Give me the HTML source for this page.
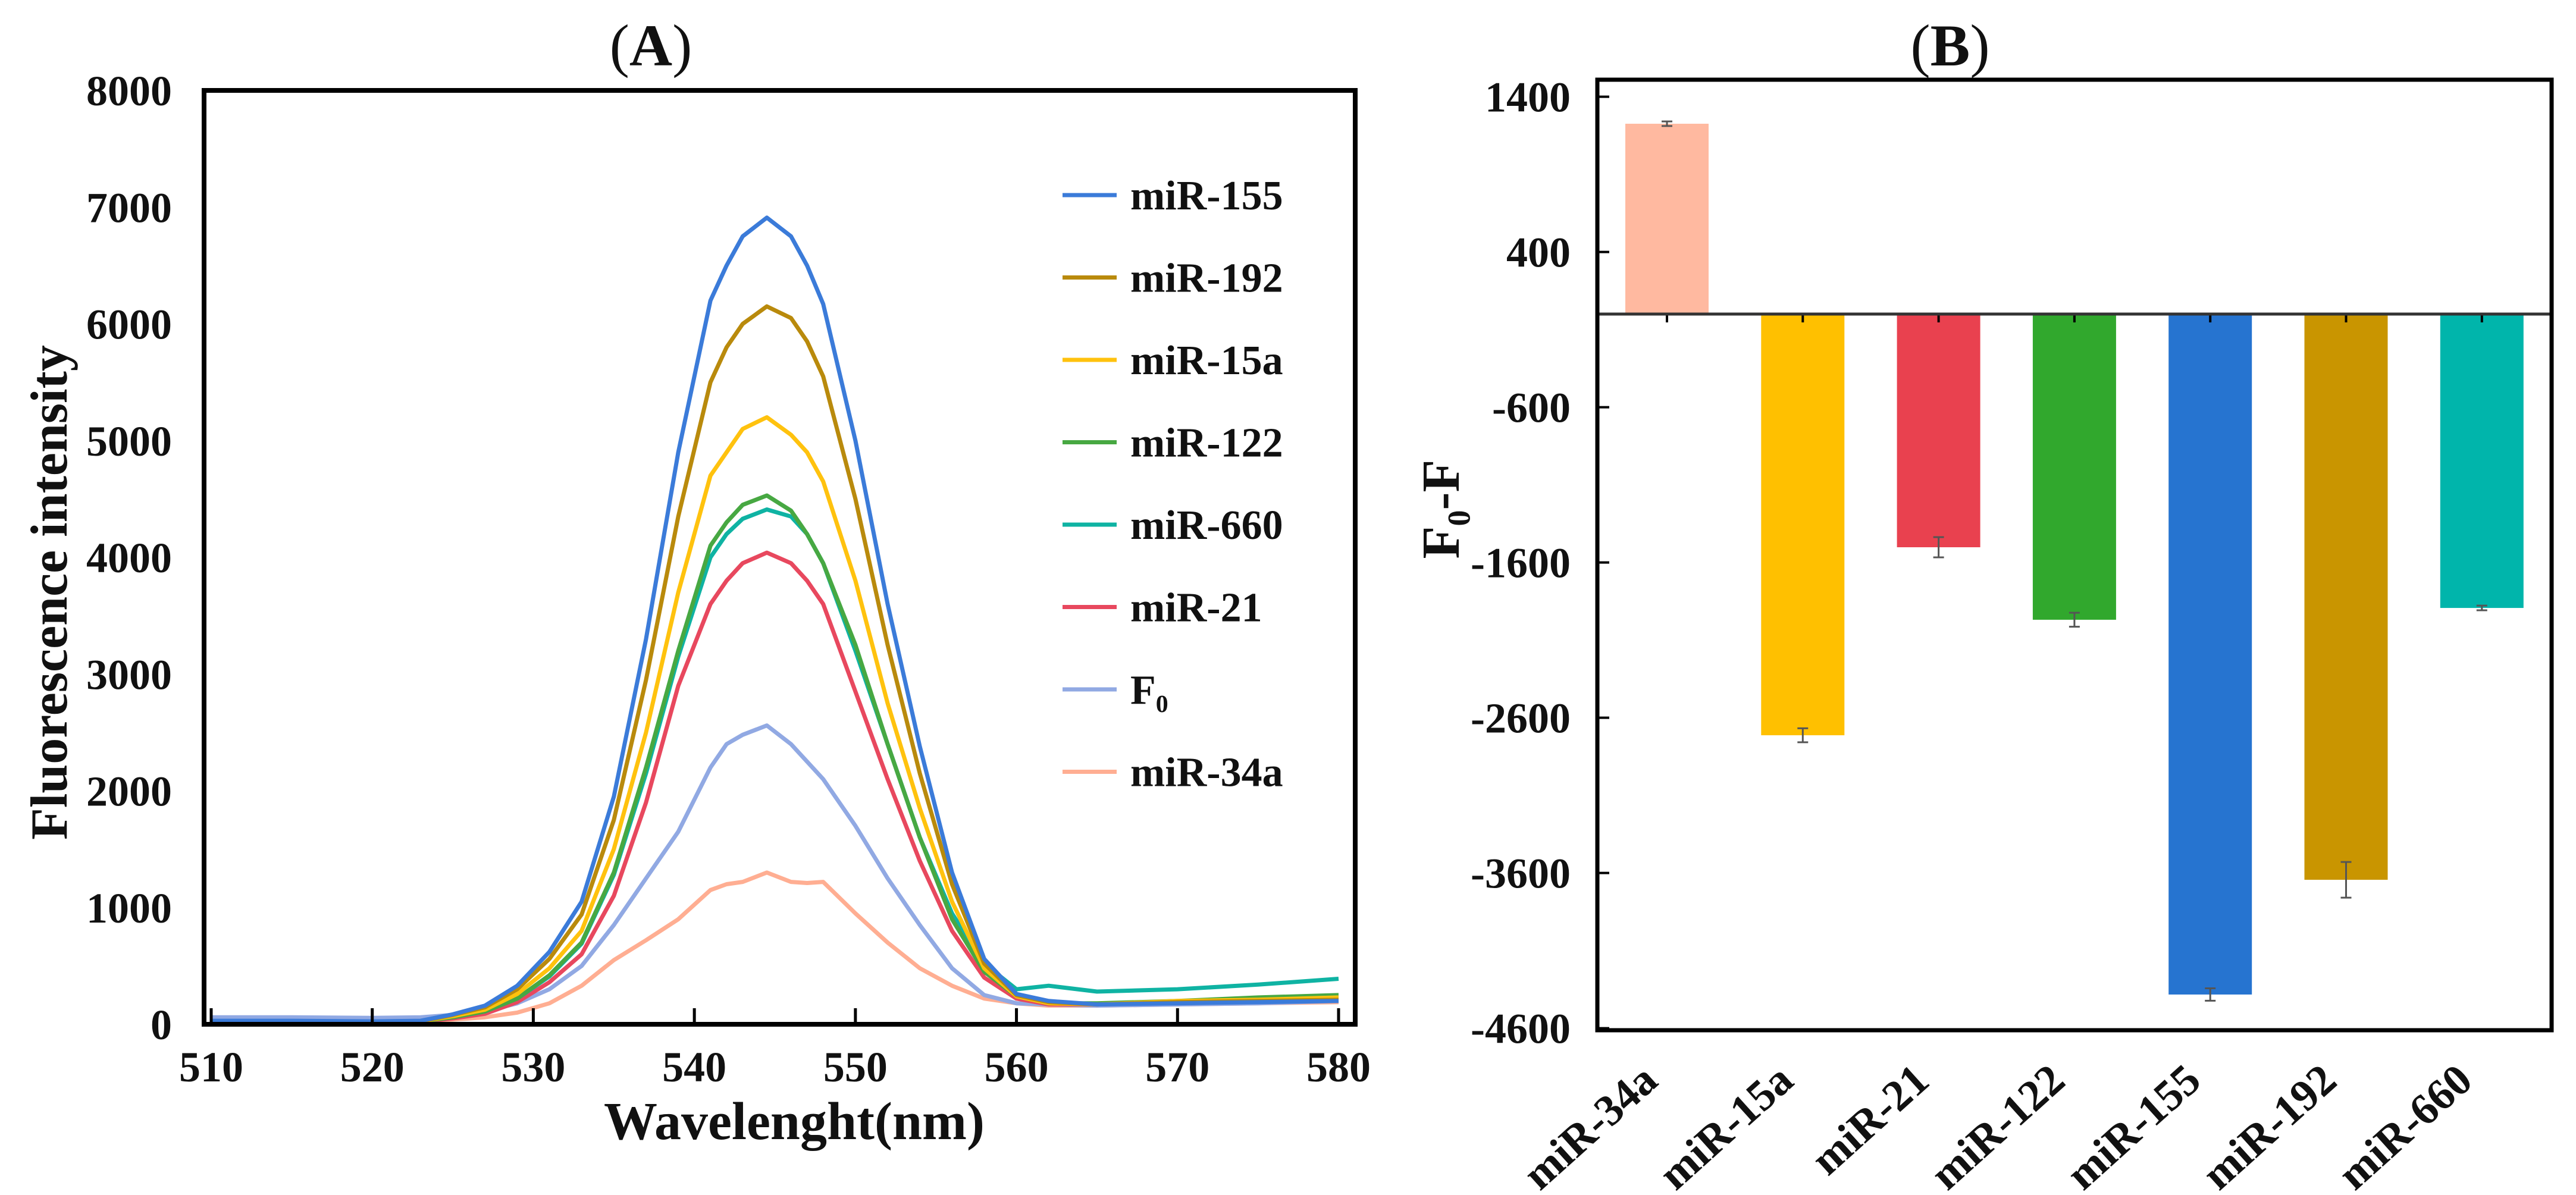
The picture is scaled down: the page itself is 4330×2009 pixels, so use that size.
<!DOCTYPE html>
<html><head><meta charset="utf-8"><style>
html,body{margin:0;padding:0;background:#fff}
svg text{font-family:"Liberation Serif",serif;font-weight:bold;fill:#111}
</style></head><body>
<svg id="fig" width="4330" height="2004" viewBox="0 0 4330 2004" xmlns="http://www.w3.org/2000/svg">
<rect width="4330" height="2004" fill="#fff"/>
<g id="pA"></g>
<g id="pB"></g>
</svg>
<script>
// ---------- Panel A data ----------
const wavelengths=[510,515,520,523,525,527,529,531,533,535,537,539,541,542,543,544.5,546,547,548,550,552,554,556,558,560,562,565,570,575,580];
const s155=[30,30,25,30,85,160,330,620,1050,1950,3300,4900,6200,6500,6750,6910,6750,6500,6170,5000,3600,2380,1300,560,260,200,170,180,190,200];
const s192=[25,25,20,25,80,145,300,560,940,1750,2950,4350,5500,5800,6000,6150,6050,5850,5550,4500,3250,2150,1200,520,250,190,170,190,200,210];
const s15a=[25,25,20,25,70,125,260,480,800,1500,2500,3700,4700,4900,5100,5200,5050,4900,4650,3800,2750,1850,1050,480,240,180,170,200,210,230];
const s122=[20,20,20,25,60,110,220,420,700,1300,2200,3200,4100,4300,4450,4530,4400,4200,3950,3250,2400,1600,900,450,240,180,180,200,230,250];
const s660=[20,20,20,25,60,110,220,410,690,1280,2150,3150,4000,4200,4330,4410,4350,4200,3950,3200,2400,1600,950,520,300,330,280,300,340,390];
const s21=[20,20,20,20,50,90,190,360,600,1100,1900,2900,3600,3800,3950,4040,3950,3800,3600,2850,2100,1400,800,400,220,170,170,190,210,220];
const sF0=[60,60,55,60,80,110,180,300,500,850,1250,1650,2200,2400,2480,2560,2400,2250,2100,1700,1250,850,480,250,180,170,160,170,180,200];
const s34a=[20,20,20,20,40,60,100,180,330,550,720,900,1150,1200,1220,1300,1220,1210,1220,950,700,480,330,220,180,160,160,170,180,190];
const seriesNames=["miR-155","miR-192","miR-15a","miR-122","miR-660","miR-21","F₀","miR-34a"];
const seriesColors=["#3b7bd9","#b98a0c","#ffc20e","#47a842","#0fb3a3","#e8485e","#91a9e3","#ffae92"];
const seriesData=[s155,s192,s15a,s122,s660,s21,sF0,s34a];
const xTicksA=[510,520,530,540,550,560,570,580];
const yTicksA=[0,1000,2000,3000,4000,5000,6000,7000,8000];
// ---------- Panel B data ----------
const barCats=["miR-34a","miR-15a","miR-21","miR-122","miR-155","miR-192","miR-660"];
const barVals=[1226,-2713,-1502,-1969,-4383,-3644,-1893];
const barErr=[15,45,65,45,40,115,15];
const barColors=["#ffb9a0","#ffc000","#e9414f","#31a82d","#2674d0","#c99500","#00b5ab"];
const yTicksB=[1400,400,-600,-1600,-2600,-3600,-4600];

const NS="http://www.w3.org/2000/svg";
function mk(tag,attrs,parent,txt){const e=document.createElementNS(NS,tag);for(const k in attrs)e.setAttribute(k,attrs[k]);if(txt!==undefined)e.textContent=txt;parent.appendChild(e);return e;}

// Panel A
const A=document.getElementById('pA');
const ax=v=>355+(v-510)*(2250-355)/70;
const ay=v=>1722-v*(1722-152)/8000;
let t=mk('text',{x:1094,y:110,'font-size':100,'text-anchor':'middle'},A);
t.innerHTML='<tspan font-weight="normal">(</tspan>A<tspan font-weight="normal">)</tspan>';

seriesData.slice().reverse().forEach((s,ri)=>{
  const i=seriesData.length-1-ri;
  const d=s.map((v,j)=>(j?'L':'M')+ax(wavelengths[j]).toFixed(1)+','+ay(v).toFixed(1)).join(' ');
  const p=mk('path',{d:d,fill:'none',stroke:seriesColors[i],'stroke-width':7,'stroke-linejoin':'round'},A);
  
  
});
let fr=mk('rect',{x:343,y:152,width:1935,height:1570,fill:'none',stroke:'#000','stroke-width':8},A);

xTicksA.forEach(v=>{
  const l=mk('line',{x1:ax(v),x2:ax(v),y1:1722,y2:1695,stroke:'#000','stroke-width':5},A);
  
  const tx=mk('text',{x:ax(v),y:1818,'font-size':72,'text-anchor':'middle'},A,String(v));
  
});
yTicksA.forEach(v=>{
  const tx=mk('text',{x:289,y:ay(v)+25,'font-size':72,'text-anchor':'end'},A,String(v));
  
});
t=mk('text',{x:1335,y:1915,'font-size':90,'text-anchor':'middle'},A,'Wavelenght(nm)');

t=mk('text',{x:0,y:0,'font-size':88,'text-anchor':'middle',transform:'translate(112,996) rotate(-90)'},A,'Fluorescence intensity');

seriesNames.forEach((n,i)=>{
  const y=328+i*138.5;
  const l=mk('line',{x1:1786,x2:1877,y1:y,y2:y,stroke:seriesColors[i],'stroke-width':7},A);
  
  const tx=mk('text',{x:1900,y:y+24,'font-size':70},A,n);
  
});

// Panel B
const B=document.getElementById('pB');
const by=v=>528-v*0.261;
const bx=i=>2802+i*228.3;
t=mk('text',{x:3278,y:110,'font-size':100,'text-anchor':'middle'},B);
t.innerHTML='<tspan font-weight="normal">(</tspan>B<tspan font-weight="normal">)</tspan>';

barVals.forEach((v,i)=>{
  const y0=by(0),y1=by(v);
  const r=mk('rect',{x:bx(i)-70,y:Math.min(y0,y1),width:140,height:Math.abs(y1-y0),fill:barColors[i]},B);
  
  const e1=by(v+barErr[i]),e2=by(v-barErr[i]);
  const eb=mk('path',{d:`M${bx(i)},${e1} L${bx(i)},${e2} M${bx(i)-9},${e1} L${bx(i)+9},${e1} M${bx(i)-9},${e2} L${bx(i)+9},${e2}`,stroke:'#555','stroke-width':3,fill:'none'},B);
  
  const tk=mk('line',{x1:bx(i),x2:bx(i),y1:by(0),y2:by(0)+14,stroke:'#000','stroke-width':4},B);
  
  const tx=mk('text',{x:0,y:0,'font-size':74,'text-anchor':'end',transform:`translate(${bx(i)-12},${1822}) rotate(-42)`},B,barCats[i]);
  
});
let zl=mk('line',{x1:2685,x2:4289,y1:by(0),y2:by(0),stroke:'#333','stroke-width':5},B);

fr=mk('rect',{x:2685,y:134,width:1604,height:1598,fill:'none',stroke:'#000','stroke-width':7},B);

yTicksB.forEach(v=>{
  const l=mk('line',{x1:2685,x2:2705,y1:by(v),y2:by(v),stroke:'#000','stroke-width':4},B);
  
  const tx=mk('text',{x:2640,y:by(v)+25,'font-size':72,'text-anchor':'end'},B,String(v));
  
});
t=mk('text',{x:0,y:0,'font-size':90,'text-anchor':'middle',transform:'translate(2452,856) rotate(-90)'},B,'F₀-F');

</script>
</body></html>
